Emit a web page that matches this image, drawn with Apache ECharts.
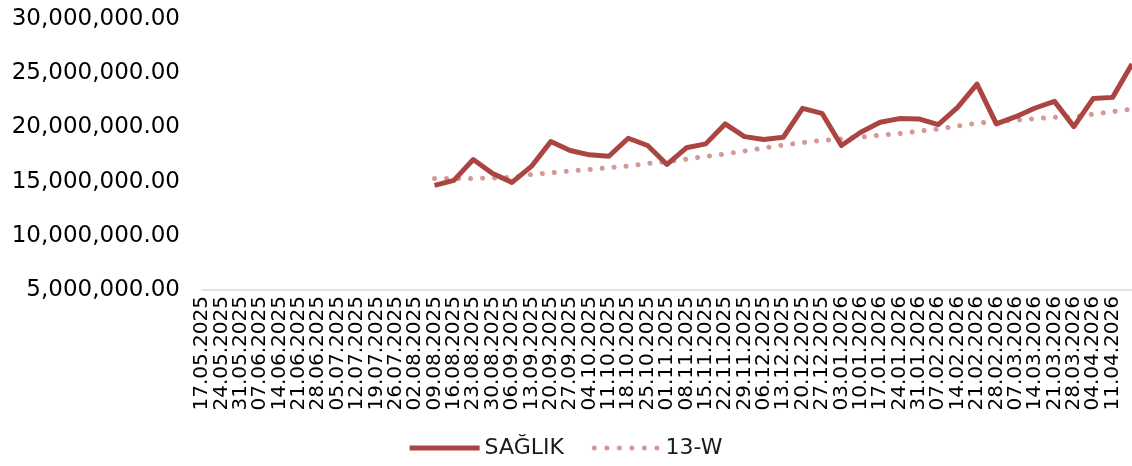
<!DOCTYPE html>
<html>
<head>
<meta charset="utf-8">
<script src="https://cdn.jsdelivr.net/npm/echarts@6/dist/echarts.min.js"></script>
<style>
html,body{margin:0;padding:0;background:#fff;}
#chart{width:1132px;height:466px;}
</style>
</head>
<body>
<div id="chart"></div>
<script>
var categories = ['17.05.2025','24.05.2025','31.05.2025','07.06.2025','14.06.2025','21.06.2025','28.06.2025','05.07.2025','12.07.2025','19.07.2025','26.07.2025','02.08.2025','09.08.2025','16.08.2025','23.08.2025','30.08.2025','06.09.2025','13.09.2025','20.09.2025','27.09.2025','04.10.2025','11.10.2025','18.10.2025','25.10.2025','01.11.2025','08.11.2025','15.11.2025','22.11.2025','29.11.2025','06.12.2025','13.12.2025','20.12.2025','27.12.2025','03.01.2026','10.01.2026','17.01.2026','24.01.2026','31.01.2026','07.02.2026','14.02.2026','21.02.2026','28.02.2026','07.03.2026','14.03.2026','21.03.2026','28.03.2026','04.04.2026','11.04.2026','18.04.2026'];

var saglik = [null,null,null,null,null,null,null,null,null,null,null,null,
  14650000,15110000,17040000,15750000,14930000,16400000,18690000,17870000,17470000,17340000,
  19000000,18330000,16580000,18120000,18480000,20320000,19150000,18880000,19090000,21760000,
  21300000,18330000,19550000,20470000,20810000,20780000,20260000,21850000,24000000,20320000,
  20990000,21790000,22400000,20070000,22670000,22770000,25840000];

var trend13w = [null,null,null,null,null,null,null,null,null,null,null,null,
  15290000,15290000,15290000,15320000,15390000,15660000,15800000,15980000,16120000,16280000,
  16440000,16670000,16830000,17070000,17320000,17550000,17820000,18100000,18370000,18600000,
  18790000,18940000,19110000,19290000,19430000,19660000,19860000,20120000,20400000,20530000,
  20670000,20810000,20930000,20970000,21220000,21450000,21700000];

var yTicks = {min: 5000000, max: 30000000, interval: 5000000};

var lineIcon = 'path://M0,0 L70,0 L70,5 L0,5 Z';
var dotIcon = 'path://' + [2.5, 15, 27.5, 40, 52.5, 65].map(function (c) {
  return 'M' + (c - 2.5) + ',2.5 a2.5,2.5 0 1,0 5,0 a2.5,2.5 0 1,0 -5,0 Z';
}).join(' ');

var lastCategory = categories[categories.length - 1];

var chart = echarts.init(document.getElementById('chart'));
chart.setOption({
  animation: false,
  grid: {left: 202, right: 0, top: 19, bottom: 176, containLabel: false, outerBoundsMode: 'none'},
  legend: {
    bottom: 2,
    left: 'center',
    itemWidth: 70,
    itemHeight: 5,
    itemGap: 28,
    textStyle: {fontFamily: 'DejaVu Sans', fontSize: 22, color: '#1a1a1a'},
    data: [
      {name: 'SAĞLIK', icon: lineIcon},
      {name: '13-W', icon: dotIcon}
    ]
  },
  xAxis: {
    type: 'category',
    data: categories,
    boundaryGap: false,
    axisLine: {show: true, lineStyle: {color: '#d9d9d9', width: 1.5}},
    axisTick: {show: false},
    axisLabel: {
      interval: 0,
      rotate: 90,
      margin: 6,
      showMinLabel: true,
      showMaxLabel: true,
      hideOverlap: false,
      fontFamily: 'DejaVu Sans',
      fontSize: 20,
      color: '#000',
      formatter: function (v) { return v === lastCategory ? '' : v; }
    },
    splitLine: {show: false}
  },
  yAxis: {
    type: 'value',
    min: yTicks.min,
    max: yTicks.max,
    interval: yTicks.interval,
    axisLine: {show: false},
    axisTick: {show: false},
    splitLine: {show: false},
    axisLabel: {
      margin: 22,
      fontFamily: 'DejaVu Sans',
      fontSize: 23,
      color: '#000',
      formatter: function (v) {
        return v.toLocaleString('en-US', {minimumFractionDigits: 2, maximumFractionDigits: 2});
      }
    }
  },
  series: [
    {
      name: 'SAĞLIK',
      type: 'line',
      data: saglik,
      symbol: 'none',
      z: 3,
      itemStyle: {color: '#ab4542'},
      lineStyle: {color: '#ab4542', width: 5, join: 'round', cap: 'butt'}
    },
    {
      name: '13-W',
      type: 'line',
      data: trend13w,
      symbol: 'none',
      z: 2,
      itemStyle: {color: '#d69896'},
      lineStyle: {color: '#d69896', width: 5, type: [0.01, 12], cap: 'round'}
    }
  ]
});
</script>
</body>
</html>
